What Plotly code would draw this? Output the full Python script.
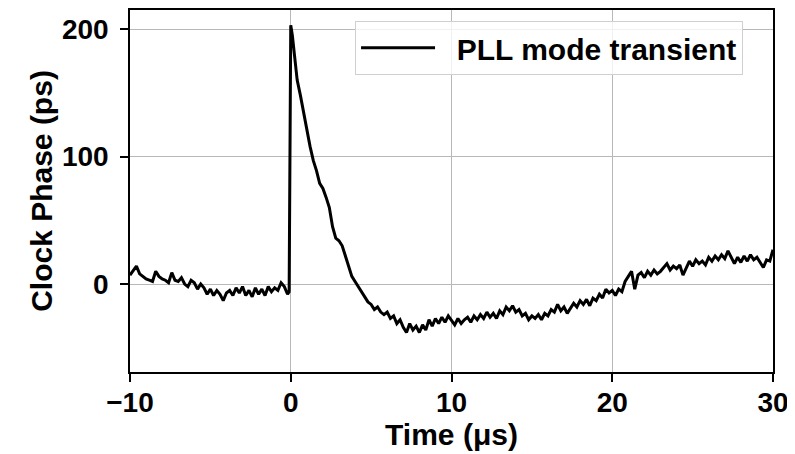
import plotly.graph_objects as go

# time axis (us) and clock phase (ps)
time_us = [
    -10.0, -9.8, -9.6, -9.4, -9.2, -9.0, -8.8, -8.6, -8.4, -8.2,
    -8.0, -7.8, -7.6, -7.4, -7.2, -7.0, -6.8, -6.6, -6.4, -6.2,
    -6.0, -5.8, -5.6, -5.4, -5.2, -5.0, -4.8, -4.6, -4.4, -4.2,
    -4.0, -3.8, -3.6, -3.4, -3.2, -3.0, -2.8, -2.6, -2.4, -2.2,
    -2.0, -1.8, -1.6, -1.4, -1.2, -1.0, -0.8, -0.6, -0.4, -0.2,
    -0.1, 0.0, 0.1, 0.2, 0.3, 0.4, 0.6, 0.8, 1.0, 1.2,
    1.4, 1.6, 1.8, 2.0, 2.2, 2.4, 2.6, 2.8, 3.0, 3.2,
    3.4, 3.6, 3.8, 4.0, 4.2, 4.4, 4.6, 4.8, 5.0, 5.2,
    5.4, 5.6, 5.8, 6.0, 6.2, 6.4, 6.6, 6.8, 7.0, 7.2,
    7.4, 7.6, 7.8, 8.0, 8.2, 8.4, 8.6, 8.8, 9.0, 9.2,
    9.4, 9.6, 9.8, 10.0, 10.2, 10.4, 10.6, 10.8, 11.0, 11.2,
    11.4, 11.6, 11.8, 12.0, 12.2, 12.4, 12.6, 12.8, 13.0, 13.2,
    13.4, 13.6, 13.8, 14.0, 14.2, 14.4, 14.6, 14.8, 15.0, 15.2,
    15.4, 15.6, 15.8, 16.0, 16.2, 16.4, 16.6, 16.8, 17.0, 17.2,
    17.4, 17.6, 17.8, 18.0, 18.2, 18.4, 18.6, 18.8, 19.0, 19.2,
    19.4, 19.6, 19.8, 20.0, 20.2, 20.4, 20.6, 20.8, 21.0, 21.2,
    21.4, 21.6, 21.8, 22.0, 22.2, 22.4, 22.6, 22.8, 23.0, 23.2,
    23.4, 23.6, 23.8, 24.0, 24.2, 24.4, 24.6, 24.8, 25.0, 25.2,
    25.4, 25.6, 25.8, 26.0, 26.2, 26.4, 26.6, 26.8, 27.0, 27.2,
    27.4, 27.6, 27.8, 28.0, 28.2, 28.4, 28.6, 28.8, 29.0, 29.2,
    29.4, 29.6, 29.8, 30.0,
]
phase_ps = [
    7, 11, 14, 8, 6, 4, 3, 2, 10, 6,
    4, 3, 1, 9, 3, 2, 5, 0, -2, 3,
    1, -4, 0, -3, -8, -4, -9, -5, -8, -13,
    -7, -5, -9, -3, -7, -2, -9, -5, -10, -3,
    -8, -4, -9, -2, -6, -3, -5, 1, -2, -8,
    -6, 203, 195, 182, 168, 160, 148, 134, 122, 108,
    97, 89, 79, 75, 68, 60, 45, 36, 34, 30,
    22, 14, 6, 2, -2, -5, -10, -14, -16, -20,
    -18, -22, -24, -22, -27, -25, -31, -28, -34, -38,
    -31, -36, -33, -38, -32, -36, -28, -33, -27, -31,
    -26, -30, -25, -29, -32, -27, -31, -28, -26, -30,
    -25, -28, -24, -27, -22, -26, -23, -27, -21, -24,
    -18, -21, -17, -22, -20, -25, -23, -28, -25, -27,
    -24, -28, -23, -25, -20, -22, -16, -21, -18, -23,
    -19, -15, -18, -13, -16, -12, -17, -11, -13, -8,
    -11, -4, -7, -5, -9, -4, -6, 2, 6, 10,
    -4, 7, 9, 5, 10, 7, 11, 8, 10, 13,
    16, 11, 14, 12, 15, 7, 13, 18, 14, 19,
    16, 18, 15, 21, 18, 22, 19, 23, 20, 26,
    21, 16, 21, 17, 22, 18, 23, 19, 21, 17,
    13, 19, 18, 27,
]

x_ticks = [-10, 0, 10, 20, 30]
x_tick_text = ["\u221210", "0", "10", "20", "30"]
y_ticks = [0, 100, 200]

font_family = "Liberation Sans, Arial, sans-serif"

fig = go.Figure()
fig.add_trace(go.Scatter(
    x=time_us,
    y=phase_ps,
    mode="lines",
    # leading no-break spaces widen the gap between the line sample and the text
    name="\u00a0\u00a0PLL mode transient",
    line=dict(color="black", width=3),
))

axis_style = dict(
    showline=True,
    linecolor="black",
    linewidth=1.5,
    mirror=True,
    showgrid=True,
    gridcolor="#b8b8b8",
    gridwidth=1,
    zeroline=False,
    ticks="outside",
    ticklen=8,
    tickwidth=1.5,
    tickcolor="black",
    tickfont=dict(family=font_family, size=28, color="black", weight="bold"),
)
title_font = dict(family=font_family, size=30, color="black", weight="bold")

fig.update_xaxes(
    range=[-10, 30],
    tickvals=x_ticks,
    ticktext=x_tick_text,
    ticklabelstandoff=-3,
    title=dict(text="Time (\u03bcs)", font=title_font, standoff=6),
    **axis_style,
)
fig.update_yaxes(
    range=[-69, 215],
    tickvals=y_ticks,
    ticklabelstandoff=6,
    title=dict(text="Clock Phase (ps)", font=title_font, standoff=0),
    **axis_style,
)

# the page body adds an 8px offset, so the figure is 8px smaller
fig.update_layout(
    width=787,
    height=446,
    margin=dict(l=122, r=22, t=0, b=82),
    plot_bgcolor="white",
    paper_bgcolor="white",
    showlegend=True,
    legend=dict(
        x=0.35,
        y=0.97,
        xanchor="left",
        yanchor="top",
        bgcolor="rgba(255,255,255,0.8)",
        bordercolor="#d0d0d0",
        borderwidth=1,
        itemwidth=74,
        font=dict(family=font_family, size=30, color="black", weight="bold"),
    ),
)

fig.write_html("out.html")
